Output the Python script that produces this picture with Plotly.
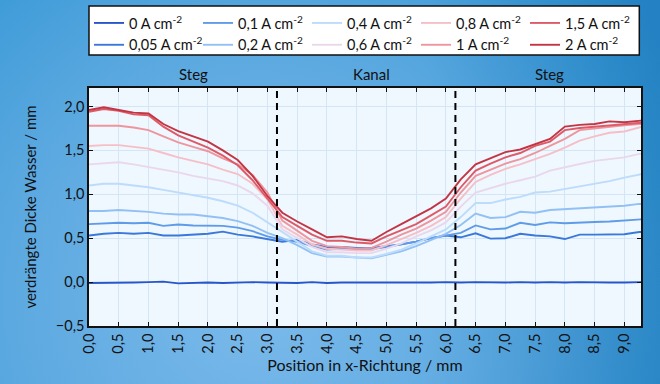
import base64
import plotly.graph_objects as go

# ---------------- data ----------------
x_mm = [0, 0.25, 0.5, 0.75, 1.0, 1.25, 1.5, 1.75, 2.0, 2.25, 2.5, 2.75, 3.0, 3.25, 3.5, 3.75,
        4.0, 4.25, 4.5, 4.75, 5.0, 5.25, 5.5, 5.75, 6.0, 6.25, 6.5, 6.75, 7.0, 7.25, 7.5, 7.75,
        8.0, 8.25, 8.5, 8.75, 9.0, 9.25, 9.3]

y_0 = [-0.01, -0.01, -0.01, -0.005, 0.0, 0.005, -0.015, -0.01, -0.005, -0.01, -0.005, 0.0, -0.005,
       -0.005, -0.01, 0.0, -0.01, -0.005, -0.005, -0.01, -0.005, -0.01, -0.005, -0.005, 0.0, -0.005,
       0.0, -0.005, -0.005, 0.0, -0.005, 0.0, -0.005, 0.0, -0.005, -0.005, -0.005, 0.0, 0.0]
y_005 = [0.53, 0.55, 0.56, 0.55, 0.56, 0.53, 0.53, 0.54, 0.55, 0.575, 0.54, 0.52, 0.49, 0.46, 0.48,
         0.43, 0.40, 0.40, 0.39, 0.39, 0.41, 0.43, 0.46, 0.50, 0.53, 0.51, 0.555, 0.495, 0.50, 0.55,
         0.53, 0.52, 0.49, 0.54, 0.54, 0.54, 0.545, 0.57, 0.57]
y_01 = [0.66, 0.67, 0.675, 0.67, 0.675, 0.64, 0.655, 0.645, 0.64, 0.64, 0.62, 0.58, 0.52, 0.48, 0.46,
        0.41, 0.37, 0.38, 0.37, 0.375, 0.40, 0.43, 0.46, 0.50, 0.53, 0.56, 0.645, 0.60, 0.61, 0.675,
        0.65, 0.68, 0.67, 0.68, 0.685, 0.69, 0.70, 0.715, 0.715]
y_02 = [0.81, 0.81, 0.82, 0.81, 0.80, 0.78, 0.77, 0.77, 0.75, 0.73, 0.695, 0.64, 0.56, 0.50, 0.42,
        0.33, 0.29, 0.29, 0.28, 0.27, 0.31, 0.35, 0.41, 0.48, 0.55, 0.65, 0.78, 0.73, 0.74, 0.80,
        0.79, 0.82, 0.83, 0.84, 0.85, 0.86, 0.87, 0.89, 0.89]
y_04 = [1.10, 1.12, 1.12, 1.10, 1.08, 1.05, 1.02, 0.99, 0.96, 0.92, 0.87, 0.79, 0.68, 0.56, 0.46,
        0.35, 0.30, 0.30, 0.28, 0.28, 0.32, 0.37, 0.44, 0.52, 0.60, 0.74, 0.90, 0.90, 0.94, 0.97,
        1.02, 1.03, 1.06, 1.09, 1.12, 1.15, 1.19, 1.23, 1.23]
y_06 = [1.34, 1.35, 1.365, 1.34, 1.31, 1.28, 1.25, 1.21, 1.18, 1.15, 1.10, 1.01, 0.87, 0.60, 0.50,
        0.40, 0.34, 0.34, 0.33, 0.33, 0.38, 0.44, 0.52, 0.59, 0.68, 0.86, 1.02, 1.07, 1.12, 1.16,
        1.20, 1.27, 1.31, 1.345, 1.38, 1.40, 1.42, 1.46, 1.46]
y_08 = [1.55, 1.56, 1.56, 1.54, 1.52, 1.47, 1.42, 1.38, 1.34, 1.28, 1.23, 1.12, 0.94, 0.64, 0.54,
        0.43, 0.38, 0.37, 0.36, 0.36, 0.42, 0.49, 0.56, 0.64, 0.74, 0.95, 1.14, 1.22, 1.29, 1.34,
        1.40, 1.46, 1.53, 1.61, 1.66, 1.70, 1.715, 1.765, 1.77]
y_1 = [1.78, 1.78, 1.78, 1.76, 1.73, 1.66, 1.59, 1.54, 1.49, 1.41, 1.34, 1.22, 1.02, 0.70, 0.58,
       0.47, 0.41, 0.40, 0.38, 0.39, 0.46, 0.54, 0.61, 0.70, 0.80, 1.02, 1.21, 1.28, 1.35, 1.40,
       1.47, 1.55, 1.63, 1.73, 1.75, 1.77, 1.785, 1.80, 1.80]
y_15 = [1.94, 1.97, 1.95, 1.91, 1.90, 1.77, 1.67, 1.60, 1.53, 1.44, 1.33, 1.16, 0.95, 0.74, 0.64,
        0.54, 0.47, 0.47, 0.45, 0.44, 0.52, 0.59, 0.66, 0.76, 0.86, 1.08, 1.27, 1.35, 1.42, 1.47,
        1.55, 1.60, 1.73, 1.755, 1.77, 1.79, 1.80, 1.815, 1.815]
y_2 = [1.96, 1.99, 1.96, 1.93, 1.92, 1.80, 1.72, 1.66, 1.60, 1.50, 1.39, 1.21, 0.98, 0.79, 0.69,
       0.60, 0.51, 0.52, 0.49, 0.47, 0.57, 0.66, 0.75, 0.84, 0.95, 1.17, 1.34, 1.41, 1.48, 1.51,
       1.57, 1.63, 1.77, 1.79, 1.80, 1.83, 1.82, 1.84, 1.84]

series_labels = ["0", "0,05", "0,1", "0,2", "0,4", "0,6", "0,8", "1", "1,5", "2"]
series_values = [y_0, y_005, y_01, y_02, y_04, y_06, y_08, y_1, y_15, y_2]
series_colors = ["#2756cc", "#3a78da", "#5f9be8", "#93c0f4", "#bddbfb",
                 "#ead7ec", "#f6bfc7", "#ee959e", "#de5a67", "#c43544"]
legend_rank = [1, 6, 2, 7, 3, 8, 4, 9, 5, 10]

region_labels = ["Steg", "Kanal", "Steg"]
region_label_x = [1.75, 4.75, 7.75]
channel_edges = [3.16, 6.16]

x_ticks = [i * 0.5 for i in range(19)]
y_ticks = [-0.5, 0.0, 0.5, 1.0, 1.5, 2.0]

for s in series_values:
    assert len(s) == len(x_mm)

FONT = "Lato"
INK = "#111111"

# ---------------- background gradient ----------------
svg = (
    '<svg xmlns="http://www.w3.org/2000/svg" width="660" height="384">'
    '<defs>'
    '<radialGradient id="g" gradientUnits="userSpaceOnUse" cx="260" cy="300" r="480">'
    '<stop offset="0" stop-color="#7cbaeb"/><stop offset="0.55" stop-color="#5aa8e0"/>'
    '<stop offset="0.85" stop-color="#3d9bd7"/><stop offset="1" stop-color="#3292d2"/>'
    '</radialGradient>'
    '<linearGradient id="d" x1="0" y1="0" x2="1" y2="0">'
    '<stop offset="0.65" stop-color="#005aa0" stop-opacity="0"/>'
    '<stop offset="1" stop-color="#005aa0" stop-opacity="0.3"/>'
    '</linearGradient>'
    '</defs>'
    '<rect width="660" height="384" fill="url(#g)"/>'
    '<rect width="660" height="384" fill="url(#d)"/>'
    '</svg>'
)
bg_src = "data:image/svg+xml;base64," + base64.b64encode(svg.encode()).decode()

W, H = 660, 384
ML, MR, MT, MB = 89, 19, 88, 58
PW, PH = W - ML - MR, H - MT - MB

fig = go.Figure()

for lab, vals, col, rk in zip(series_labels, series_values, series_colors, legend_rank):
    fig.add_trace(go.Scatter(
        x=x_mm, y=vals, mode="lines",
        name=f"{lab} A cm<sup>-2</sup>",
        line=dict(color=col, width=1.9),
        legendrank=rk,
    ))

for xe in channel_edges:
    fig.add_vline(x=xe, line=dict(color="black", width=2, dash="7px,5px"))

for lab, xl in zip(region_labels, region_label_x):
    fig.add_annotation(x=xl, xref="x", y=1 + 14 / PH, yref="paper", text=lab,
                       showarrow=False, yanchor="middle",
                       font=dict(size=15, color=INK, family=FONT))

# plot-area fill (drawn above the background image, below grid and traces)
fig.add_shape(type="rect", xref="paper", yref="paper", x0=0, x1=1, y0=0, y1=1,
              fillcolor="#eef8fe", line=dict(width=0), layer="below")

# legend box
fig.add_shape(type="rect", xref="paper", yref="paper",
              x0=0, x1=(639.3 - ML) / PW, y0=1 + (MT - 55) / PH, y1=1 + (MT - 6) / PH,
              fillcolor="white", line=dict(color=INK, width=1.5), layer="above")

fig.add_layout_image(dict(source=bg_src, xref="paper", yref="paper",
                          x=-ML / PW, y=1 + MT / PH, sizex=W / PW, sizey=H / PH,
                          sizing="stretch", xanchor="left", yanchor="top", layer="below"))

axis_common = dict(
    showline=True, linecolor=INK, linewidth=1.5, mirror="ticks",
    ticks="inside", ticklen=4, tickwidth=1.3, tickcolor=INK,
    showgrid=True, gridcolor="#d4e6f6", gridwidth=1, zeroline=False,
    tickfont=dict(size=14.5, color=INK, family=FONT),
)

fig.update_xaxes(range=[0, 9.28], tickvals=x_ticks, tickformat=".1f", tickangle=-90,
                 title=dict(text="Position in x-Richtung / mm", standoff=7,
                            font=dict(size=16, color=INK, family=FONT)),
                 **axis_common)
fig.update_yaxes(range=[-0.5, 2.21], tickvals=y_ticks, tickformat=".1f",
                 title=dict(text="verdrängte Dicke Wasser / mm", standoff=16,
                            font=dict(size=15, color=INK, family=FONT)),
                 **axis_common)

fig.update_layout(
    width=W, height=H,
    margin=dict(l=ML, r=MR, t=MT, b=MB, autoexpand=False),
    paper_bgcolor="#4aa2dc",
    plot_bgcolor="#eef8fe",
    separators=",.",
    font=dict(family=FONT, size=14, color=INK),
    showlegend=True,
    legend=dict(orientation="h", x=0, xanchor="left", y=1 + (MT - 7) / PH, yanchor="top",
                bgcolor="rgba(0,0,0,0)", borderwidth=0, entrywidth=64,
                font=dict(size=14.5, color=INK, family=FONT),
                traceorder="normal", tracegroupgap=0),
)

fig.write_html("out.html")
